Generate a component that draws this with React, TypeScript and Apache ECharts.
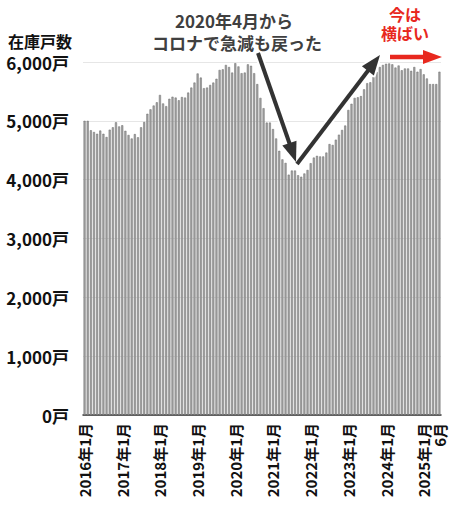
import { useEffect, useRef } from 'react';
import * as echarts from 'echarts';

// 在庫戸数（月次）2016年1月〜2025年6月
const v2016 = [5000, 5000, 4840, 4810, 4780, 4835, 4780, 4725, 4850, 4890, 4975, 4905];
const v2017 = [4925, 4830, 4760, 4700, 4775, 4720, 4890, 4980, 5120, 5195, 5260, 5315];
const v2018 = [5440, 5295, 5250, 5375, 5410, 5395, 5350, 5405, 5395, 5480, 5565, 5650];
const v2019 = [5805, 5735, 5555, 5565, 5610, 5650, 5715, 5865, 5875, 5950, 5915, 5820];
const v2020 = [5980, 5925, 5810, 5820, 5960, 5935, 5810, 5625, 5390, 5215, 4970, 4970];
const v2021 = [4860, 4700, 4490, 4345, 4285, 4085, 4155, 4155, 4075, 4050, 4105, 4165];
const v2022 = [4280, 4375, 4405, 4395, 4395, 4460, 4605, 4590, 4680, 4765, 4845, 4920];
const v2023 = [5185, 5290, 5390, 5400, 5420, 5535, 5640, 5655, 5745, 5830, 5915, 5950];
const v2024 = [5970, 5975, 5960, 5905, 5940, 5860, 5890, 5890, 5850, 5915, 5835, 5880];
const v2025 = [5790, 5720, 5625, 5625, 5625, 5835];

const yearValues = [v2016, v2017, v2018, v2019, v2020, v2021, v2022, v2023, v2024, v2025];
const firstYear = 2016;

const values = yearValues.flat();
const categories = yearValues.flatMap((arr, yi) => arr.map((_, mi) => `${firstYear + yi}年${mi + 1}月`));

const noteDrop = ['2020年4月から', 'コロナで急減も戻った'];
const noteFlat = ['今は', '横ばい'];

const FONT = '"Noto Sans CJK JP", "Noto Sans", sans-serif';

// 矢印（線＋三角の頭）を組み立てる
const arrow = (
  x1: number, y1: number, x2: number, y2: number,
  color: string, w: number, headLen: number, headW: number, halo: boolean,
) => {
  const dx = x2 - x1;
  const dy = y2 - y1;
  const len = Math.hypot(dx, dy);
  const ux = dx / len;
  const uy = dy / len;
  const bx = x2 - ux * headLen;
  const by = y2 - uy * headLen;
  const px = -uy;
  const py = ux;
  const head = [
    [x2, y2],
    [bx + (px * headW) / 2, by + (py * headW) / 2],
    [bx - (px * headW) / 2, by - (py * headW) / 2],
  ];
  const els: any[] = [];
  if (halo) {
    els.push({ type: 'line', z: 10, shape: { x1, y1, x2: bx, y2: by }, style: { stroke: '#fff', lineWidth: w + 4 } });
    els.push({ type: 'polygon', z: 10, shape: { points: head }, style: { fill: '#fff', stroke: '#fff', lineWidth: 4, lineJoin: 'round' } });
  }
  els.push({ type: 'line', z: 11, shape: { x1, y1, x2: bx + ux * 2, y2: by + uy * 2 }, style: { stroke: color, lineWidth: w } });
  els.push({ type: 'polygon', z: 11, shape: { points: head }, style: { fill: color } });
  return els;
};

const centerText = (text: string, x: number, y: number, fill: string, fontSize: number) => ({
  type: 'text',
  x,
  y,
  z: 12,
  style: {
    text,
    fill,
    fontSize,
    fontWeight: 'bold',
    fontFamily: FONT,
    align: 'center',
    textAlign: 'center',
    verticalAlign: 'middle',
    textVerticalAlign: 'middle',
  },
});

const App = () => {
  const divRef = useRef<HTMLDivElement | null>(null);

  useEffect(() => {
    if (!divRef.current) return;
    const chart = echarts.init(divRef.current, null, { renderer: 'svg' });

    const option: echarts.EChartsOption = {
      animation: false,
      grid: { left: 83, right: 9, top: 62, bottom: 93, containLabel: false },
      xAxis: {
        type: 'category',
        data: categories,
        boundaryGap: true,
        axisLine: { lineStyle: { color: '#333', width: 1.5 } },
        axisTick: { show: false },
        axisLabel: {
          rotate: 90,
          margin: 8,
          hideOverlap: false,
          interval: (i: number) => i % 12 === 0 || i === values.length - 1,
          formatter: (v: string, i: number) => (i === values.length - 1 ? v.replace(/^\d+年/, '') : v),
          color: '#111',
          fontSize: 15,
          fontWeight: 'bold',
          fontFamily: FONT,
        },
      },
      yAxis: {
        type: 'value',
        min: 0,
        max: 6000,
        interval: 1000,
        axisLine: { show: false },
        axisTick: { show: false },
        splitLine: { lineStyle: { color: '#e6e6e6', width: 1 } },
        axisLabel: {
          margin: 14,
          formatter: (v: number) => `${v.toLocaleString('en-US')}戸`,
          color: '#111',
          fontSize: 17,
          fontWeight: 'bold',
          fontFamily: FONT,
        },
      },
      series: [
        {
          type: 'bar',
          data: values,
          barCategoryGap: '35%',
          itemStyle: { color: '#a4a4a4', borderColor: '#6a6a6a', borderWidth: 0.5 },
        },
      ],
      graphic: [
        {
          type: 'text',
          left: 8,
          top: 33,
          style: { text: '在庫戸数', fill: '#111', fontSize: 16, fontWeight: 'bold', fontFamily: FONT },
        },
        centerText(noteDrop[0], 234, 20, '#404040', 17),
        centerText(noteDrop[1], 237, 42, '#404040', 17),
        centerText(noteFlat[0], 405, 14, '#e8281e', 16),
        centerText(noteFlat[1], 405, 33, '#e8281e', 16),
        ...arrow(258, 53, 296, 162, '#333', 4, 20, 15, true),
        ...arrow(297, 164, 380, 55, '#333', 4, 20, 15, true),
        ...arrow(390, 57, 442, 57, '#e8281e', 4.5, 19, 14, false),
      ],
    };

    chart.setOption(option);
    return () => chart.dispose();
  }, []);

  return <div ref={divRef} style={{ position: 'absolute', left: 0, top: 0, width: 450, height: 508 }} />;
};

export default App;
